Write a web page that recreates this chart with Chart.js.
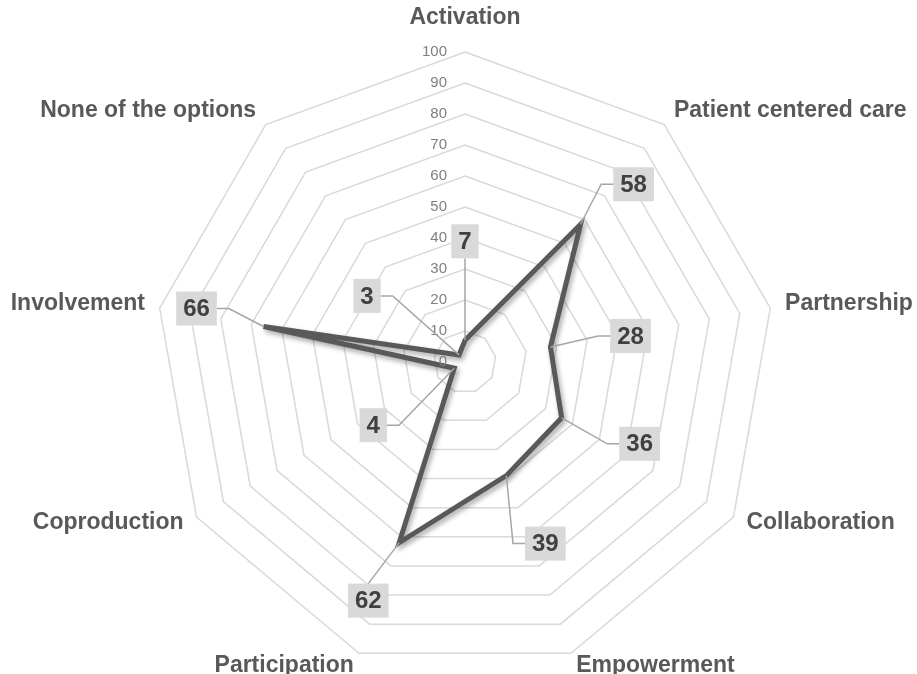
<!DOCTYPE html>
<html>
<head>
<meta charset="utf-8">
<script src="https://cdn.jsdelivr.net/npm/chart.js@4"></script>
<style>
  html, body { margin: 0; padding: 0; background: #fff; }
  canvas { display: block; }
</style>
</head>
<body>
<canvas id="radar" width="917" height="674"></canvas>
<script>
var categories = ["Activation", "Patient centered care", "Partnership", "Collaboration", "Empowerment",
                  "Participation", "Coproduction", "Involvement", "None of the options"];
var values = [7, 58, 28, 36, 39, 62, 4, 66, 3];
var tickValues = [0, 10, 20, 30, 40, 50, 60, 70, 80, 90, 100];

// where each value box sits, relative to its point (px)
var boxOffsets = [[0, -99], [53, -40], [80, -11], [78, 26], [39, 68], [-31, 58], [-81, 57], [-67, -18], [-92, -59]];

var FONT = "'Liberation Sans', Arial, sans-serif";

var shadowPlugin = {
  id: "lineShadow",
  beforeDatasetDraw: function (chart) {
    var ctx = chart.ctx;
    ctx.save();
    ctx.shadowColor = "rgba(0,0,0,0.35)";
    ctx.shadowBlur = 5;
    ctx.shadowOffsetX = 2;
    ctx.shadowOffsetY = 3;
  },
  afterDatasetDraw: function (chart) {
    chart.ctx.restore();
  }
};

var textPlugin = {
  id: "radarText",
  afterDraw: function (chart) {
    var ctx = chart.ctx;
    var scale = chart.scales.r;

    // tick numbers, left of the vertical axis
    ctx.save();
    ctx.font = "15px " + FONT;
    ctx.fillStyle = "#7f7f7f";
    ctx.textAlign = "right";
    ctx.textBaseline = "middle";
    tickValues.forEach(function (v) {
      var d = scale.getDistanceFromCenterForValue(v);
      ctx.fillText(String(v), scale.xCenter - 18, scale.yCenter - d);
    });
    ctx.restore();

    // category labels
    ctx.save();
    ctx.font = "bold 23px " + FONT;
    ctx.fillStyle = "#595959";
    ctx.textBaseline = "middle";
    categories.forEach(function (c, i) {
      var p = scale.getPointPosition(i, scale.drawingArea + 15);
      var dx = p.x - scale.xCenter;
      if (Math.abs(dx) < 5) {
        ctx.textAlign = "center";
        ctx.fillText(c, p.x, p.y - 19);
      } else {
        ctx.textAlign = dx > 0 ? "left" : "right";
        ctx.fillText(c, p.x, p.y - 2);
      }
    });
    ctx.restore();

    // value boxes with leader lines
    var meta = chart.getDatasetMeta(0);
    ctx.save();
    ctx.font = "bold 24px " + FONT;
    values.forEach(function (v, i) {
      var pt = meta.data[i];
      var off = boxOffsets[i];
      var bx = pt.x + off[0], by = pt.y + off[1];
      var txt = String(v);
      var w = ctx.measureText(txt).width + 14, h = 34;
      var hw = w / 2;

      ctx.strokeStyle = "#a6a6a6";
      ctx.lineWidth = 1.5;
      ctx.beginPath();
      ctx.moveTo(pt.x, pt.y);
      if (Math.abs(off[0]) > hw + 15) {
        var side = off[0] > 0 ? bx - hw : bx + hw;
        var elbow = off[0] > 0 ? side - 12 : side + 12;
        ctx.lineTo(elbow, by);
        ctx.lineTo(side, by);
      } else {
        ctx.lineTo(bx, off[1] > 0 ? by - h / 2 : by + h / 2);
      }
      ctx.stroke();

      ctx.fillStyle = "#d9d9d9";
      ctx.fillRect(bx - hw, by - h / 2, w, h);
      ctx.fillStyle = "#404040";
      ctx.textAlign = "center";
      ctx.textBaseline = "middle";
      ctx.fillText(txt, bx, by + 1);
    });
    ctx.restore();
  }
};

new Chart(document.getElementById("radar"), {
  type: "radar",
  data: {
    labels: categories,
    datasets: [{
      label: "Responses",
      data: values,
      borderColor: "#595959",
      borderWidth: 5,
      backgroundColor: "rgba(0,0,0,0)",
      fill: false,
      pointRadius: 0,
      pointHoverRadius: 0,
      tension: 0
    }]
  },
  options: {
    responsive: false,
    animation: false,
    layout: { padding: { top: 52, bottom: 2, left: 13, right: 0 } },
    plugins: {
      legend: { display: false },
      tooltip: { enabled: false }
    },
    scales: {
      r: {
        min: 0,
        max: 100,
        ticks: { stepSize: 10, display: false },
        angleLines: { display: false },
        grid: { color: "#d9d9d9", lineWidth: 1.5 },
        pointLabels: { display: false }
      }
    }
  },
  plugins: [shadowPlugin, textPlugin]
});
</script>
</body>
</html>
